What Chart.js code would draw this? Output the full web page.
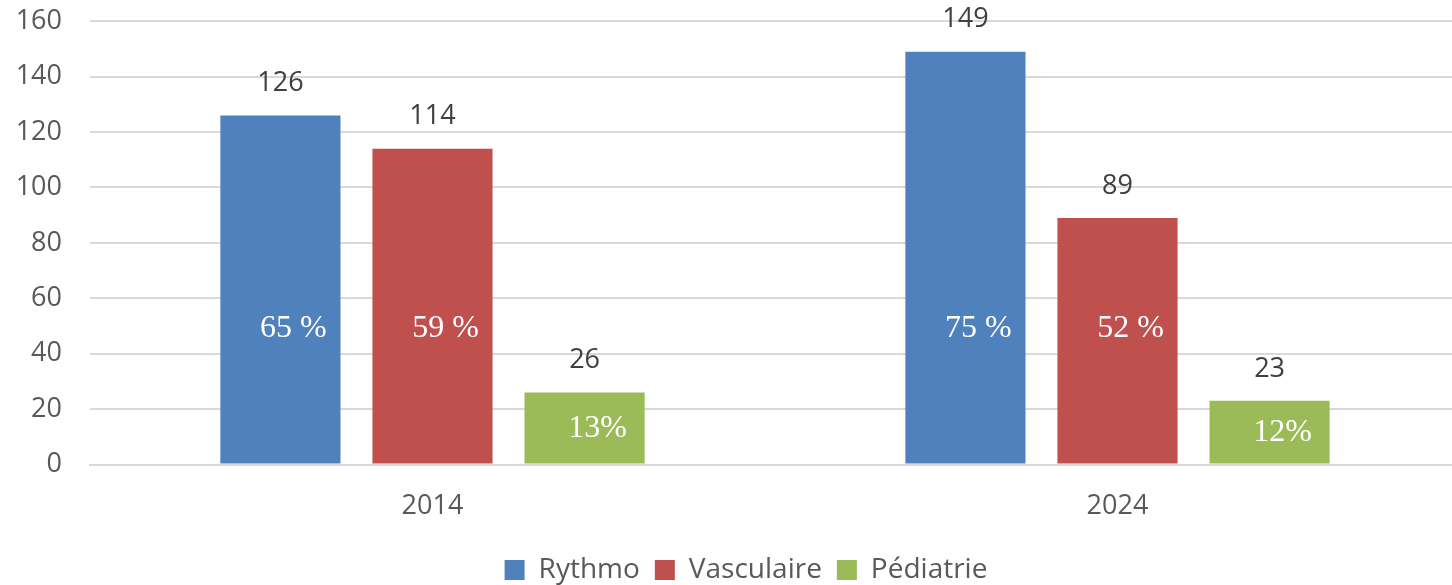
<!DOCTYPE html>
<html>
<head>
<meta charset="utf-8">
<script src="https://cdn.jsdelivr.net/npm/chart.js@4.4.1/dist/chart.umd.min.js"></script>
<style>
  html, body { margin: 0; padding: 0; background: #fff; overflow: hidden; }
  #wrap { width: 1460px; height: 617px; margin-top: -23px; }
</style>
</head>
<body>
<div id="wrap"><canvas id="chart"></canvas></div>
<script>
// categories and series
const years = ['2014', '2024'];
const rythmo = [126, 149];
const vasculaire = [114, 89];
const pediatrie = [26, 23];
// percentage labels written inside the bars
const rythmoPct = ['65 %', '75 %'];
const vasculairePct = ['59 %', '52 %'];
const pediatriePct = ['13%', '12%'];
const yTicks = [0, 20, 40, 60, 80, 100, 120, 140, 160];

const FONT = "'Open Sans', 'Noto Sans', sans-serif";

// draws the value above each bar and the percentage inside it
const barLabels = {
    id: 'barLabels',
    afterLayout(chart) {
        // legend sits a little right of centre in the original
        chart.legend.left += 16;
        chart.legend.right += 16;
    },
    afterDatasetsDraw(chart) {
        const ctx = chart.ctx;
        const y = chart.scales.y;
        chart.data.datasets.forEach(function (ds, i) {
            const meta = chart.getDatasetMeta(i);
            meta.data.forEach(function (bar, j) {
                const v = ds.data[j];
                ctx.save();
                ctx.textAlign = 'center';
                ctx.textBaseline = 'middle';
                ctx.fillStyle = '#404040';
                ctx.font = '27px ' + FONT;
                ctx.fillText(String(v), bar.x, bar.y - 32);
                ctx.fillStyle = '#ffffff';
                ctx.font = '32px "Liberation Serif", "DejaVu Serif", serif';
                const mid = v >= 50 ? 49 : v / 2;
                ctx.fillText(ds.pct[j], bar.x + 13, y.getPixelForValue(mid));
                ctx.restore();
            });
        });
    }
};

const ctx = document.getElementById('chart').getContext('2d');
new Chart(ctx, {
    type: 'bar',
    data: {
        labels: years,
        datasets: [
            { label: 'Rythmo', data: rythmo, pct: rythmoPct, backgroundColor: '#4F81BD' },
            { label: 'Vasculaire', data: vasculaire, pct: vasculairePct, backgroundColor: '#C0504D' },
            { label: 'Pédiatrie', data: pediatrie, pct: pediatriePct, backgroundColor: '#9BBB59' }
        ]
    },
    options: {
        responsive: true,
        maintainAspectRatio: false,
        animation: false,
        categoryPercentage: 0.666,
        barPercentage: 0.79,
        layout: { padding: { top: 0, right: 0, left: 0, bottom: 0 } },
        scales: {
            x: {
                grid: { display: false },
                border: { display: true, color: '#d9d9d9', width: 2 },
                ticks: { color: '#595959', font: { family: FONT, size: 27 }, padding: 18 }
            },
            y: {
                min: 0,
                max: 160,
                afterBuildTicks: function (axis) {
                    axis.ticks = yTicks.map(v => ({ value: v }));
                },
                afterFit: function (axis) {
                    axis.width = 90;
                },
                grid: { color: '#d9d9d9', lineWidth: 2, drawTicks: false },
                border: { display: false },
                ticks: { color: '#595959', font: { family: FONT, size: 27 }, padding: 28 }
            }
        },
        plugins: {
            tooltip: { enabled: false },
            legend: {
                position: 'bottom',
                labels: {
                    color: '#595959',
                    font: { family: FONT, size: 28 },
                    boxWidth: 20,
                    boxHeight: 20,
                    padding: 15
                }
            }
        }
    },
    plugins: [barLabels]
});
</script>
</body>
</html>
